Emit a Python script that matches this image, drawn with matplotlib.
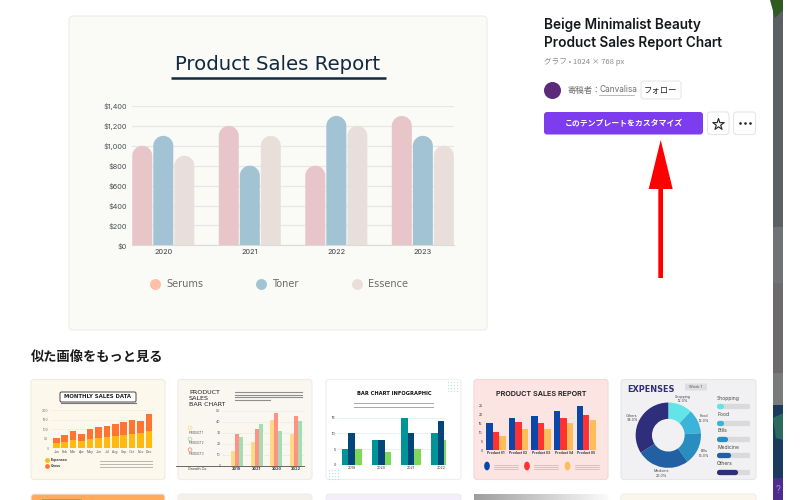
import matplotlib
matplotlib.use('Agg')
import matplotlib.pyplot as plt
import numpy as np
from matplotlib.patches import Ellipse, FancyBboxPatch, PathPatch, Polygon, Rectangle
from matplotlib.path import Path

# main chart
years = ['2020', '2021', '2022', '2023']
serums = [1000, 1200, 800, 1300]
toner = [1100, 800, 1300, 1100]
essence = [900, 1100, 1200, 1000]
y_ticks = [0, 200, 400, 600, 800, 1000, 1200, 1400]
y_labels = ['$0', '$200', '$400', '$600', '$800', '$1,000', '$1,200', '$1,400']

# thumbnails
months = ['Jan', 'Feb', 'Mar', 'Apr', 'May', 'Jun', 'Jul', 'Aug', 'Sep', 'Oct', 'Nov', 'Dec']
sales_yellow = [30, 35, 45, 40, 50, 55, 60, 65, 70, 75, 80, 90]
sales_orange = [25, 35, 45, 35, 50, 55, 55, 65, 70, 75, 65, 90]
p2_yellow = [13, 22, 42, 29]
p2_red = [29, 33, 48, 45]
p2_green = [26, 38, 32, 41]
p3_teal = [5, 8, 15, 10]
p3_navy = [10, 8, 10, 14]
p3_green = [5, 4, 5, 8]
p4_blue = [15, 18, 19, 22, 25]
p4_red = [10, 16, 15, 18, 20]
p4_orange = [8, 12, 12, 15, 17]
p4_names = ['Product 01', 'Product 02', 'Product 03', 'Product 04', 'Product 05']
exp_names = ['Shopping', 'Food', 'Bills', 'Medicine', 'Others']
exp_share = [12, 12, 16, 26, 34]
exp_progress = [18, 18, 30, 40, 60]
exp_colors = ['#62E4E8', '#3AB5D9', '#2A8DBF', '#2160A3', '#2E2E7A']

plt.rcParams['font.family'] = ['Inter', 'Noto Sans CJK JP', 'DejaVu Sans']
JP = ['Noto Sans CJK JP', 'DejaVu Sans']

fig = plt.figure(figsize=(8, 5), dpi=100, facecolor='white')
bg = fig.add_axes([0, 0, 1, 1])
bg.axis('off')


def ax_at(x0, y0, x1, y1):
    # pixel box, y from the top
    ax = fig.add_axes([x0 / 800, 1 - y1 / 500, (x1 - x0) / 800, (y1 - y0) / 500])
    ax.patch.set_alpha(0)
    for s in ax.spines.values():
        s.set_visible(False)
    ax.tick_params(length=0)
    return ax


def box(x0, y0, x1, y1, fc, ec='none', r=3, lw=0.8):
    bg.add_patch(FancyBboxPatch((x0, y0), x1 - x0, y1 - y0, boxstyle=f'round,pad=0,rounding_size={r}',
                                fc=fc, ec=ec, lw=lw))


def round_tops(ax, bars, ry):
    # swap the square bar for one with a half round top
    for b in bars:
        x, w, h = b.get_x(), b.get_width(), b.get_height()
        k = 0.5523
        verts = [(x, 0), (x, h - ry), (x, h - ry + k * ry), (x + w / 2 - k * w / 2, h), (x + w / 2, h),
                 (x + w / 2 + k * w / 2, h), (x + w, h - ry + k * ry), (x + w, h - ry), (x + w, 0), (x, 0)]
        codes = [Path.MOVETO, Path.LINETO, Path.CURVE4, Path.CURVE4, Path.CURVE4,
                 Path.CURVE4, Path.CURVE4, Path.CURVE4, Path.LINETO, Path.CLOSEPOLY]
        ax.add_patch(PathPatch(Path(verts, codes), fc=b.get_facecolor(), ec='none', zorder=3))
        b.remove()


# right strip behind the page
for y0, y1, c in [(0, 227, '#5A6063'), (227, 283, '#6F7375'), (283, 373, '#6C6A6A'), (373, 405, '#7A7C7C'),
                  (405, 478, '#1A3A60'), (478, 500, '#4C2C8C')]:
    bg.add_patch(Rectangle((773, y0), 10, y1 - y0, fc=c, ec='none'))
bg.add_patch(Polygon([(770, 0), (783, 0), (783, 10), (775, 18)], fc='#2F5A22', ec='none'))
bg.add_patch(Polygon([(773, 418), (783, 413), (783, 440), (776, 438)], fc='#2C6A5C', ec='none'))
bg.text(778, 490, '?', color='#9A86C8', fontsize=7, ha='center', va='center')

# main card
box(69, 16, 487, 330, '#FAFAF7', '#ECECE8', r=4)
bg.text(278, 64, 'Product Sales Report', family='DejaVu Sans', fontsize=14.2, color='#12293F', ha='center', va='center')
bg.plot([171, 386], [77.7, 77.7], color='#12293F', lw=1.8, solid_capstyle='butt')

ax = ax_at(132.3, 106, 454, 245.3)
ax.set_xlim(-0.358, 3.36)
ax.set_ylim(0, 1400)
xs = range(len(years))
for off, vals, c in [(-0.243, serums, '#E8C5C8'), (0, toner, '#A1C3D4'), (0.243, essence, '#E9DFDA')]:
    round_tops(ax, ax.bar([x + off for x in xs], vals, 0.231, color=c), 100)
ax.set_yticks(y_ticks, y_labels, fontsize=5.3, color='#4A4F55')
ax.set_xticks(list(xs), years, fontsize=5.3, color='#3A3F45')
ax.tick_params(axis='x', pad=2.5)
ax.tick_params(axis='y', pad=4)
ax.grid(axis='y', color='#E7E7E5', lw=0.9)
ax.set_axisbelow(True)
ax.spines['bottom'].set_visible(True)
ax.spines['bottom'].set_color('#DADADA')

for x, tx, name, c in [(155, 166, 'Serums', '#FFBFA8'), (260.7, 272, 'Toner', '#A1C3D4'), (357.3, 368.3, 'Essence', '#E9DFDA')]:
    bg.scatter([x], [284.3], s=62, color=c, zorder=3, linewidths=0)
    bg.text(tx, 284.3, name, family='DejaVu Sans', fontsize=7, color='#6B6B6B', va='center')

# template details
bg.text(544, 25, 'Beige Minimalist Beauty', fontsize=9.8, fontweight='semibold', color='#16181C', va='center')
bg.text(544, 43, 'Product Sales Report Chart', fontsize=9.8, fontweight='semibold', color='#16181C', va='center')
bg.text(544, 62, 'グラフ • 1024 × 768 px', family=JP, fontsize=5.5, color='#8A8A8A', va='center')
bg.scatter([552.3], [90], s=150, color='#5B2A78', linewidths=0)
bg.text(568, 90, '寄稿者：', family=JP, fontsize=6, color='#6E6E6E', va='center')
bg.text(599, 90, 'Canvalisa', fontsize=6, color='#6E6E6E', va='center')
bg.plot([599, 634], [94.5, 94.5], color='#A0A0A0', lw=0.5)
box(641, 81, 681, 99, 'white', '#E6E6E6', r=3)
bg.text(661, 90, 'フォロー', family=JP, fontsize=6, color='#222222', ha='center', va='center')
box(544, 112, 703, 134.5, '#7D3CEE', r=3)
bg.text(623.5, 123, 'このテンプレートをカスタマイズ', family=JP, fontsize=5.7, fontweight='bold', color='white', ha='center', va='center')
box(707.5, 112, 729, 134.5, 'white', '#E6E6E6', r=3)
bg.scatter([718.3], [123.5], marker='*', s=75, fc='white', ec='#222222', lw=0.8)
box(733.5, 112, 755.5, 134.5, 'white', '#E6E6E6', r=3)
bg.scatter([739.5, 744.5, 749.5], [123, 123, 123], s=3.5, color='#222222', linewidths=0)

# red arrow
bg.add_patch(Polygon([(660.7, 140), (672.7, 189), (663, 189), (663, 278), (658.3, 278), (658.3, 189), (648.7, 189)],
                     fc='#FF0000', ec='none'))

bg.text(31, 357, '似た画像をもっと見る', family=JP, fontsize=9.5, fontweight='bold', color='#1A1A1A', va='center')

# thumbnails
box(31, 379.5, 165, 479.5, '#FDF8EC', '#F0ECE2')
box(178, 379.5, 312, 479.5, '#FAF7F1', '#EEECE6')
box(326, 379.5, 461, 479.5, 'white', '#EEEEEE')
box(474, 379.5, 608, 479.5, '#FCE4E2', '#F2D8D6')
box(621, 379.5, 756, 479.5, '#F1F1F3', '#E6E6E8')
for x0, x1, c in [(31, 165, '#FFAB5B'), (178, 312, '#F4F1EA'), (326, 461, '#F4EEFB'), (621, 756, '#FBF6EC')]:
    box(x0, 494, x1, 506, c, '#EEEEEE')
bg.add_patch(Rectangle((42, 498.5), 39, 5, fc='#E8E28A', ec='#8A9A3A', lw=0.5))
bg.imshow(np.linspace(0.62, 0.98, 64).reshape(1, -1), cmap='gray', vmin=0, vmax=1,
          extent=(474, 608, 506, 494), aspect='auto')

# monthly sales
box(60, 392, 136, 402, 'white', '#444444', r=1.5, lw=0.7)
bg.plot([61, 136], [403, 403], color='#777777', lw=0.8)
bg.text(98, 397, 'MONTHLY SALES DATA', family='DejaVu Sans', fontsize=3.9, fontweight='bold', color='#222222', ha='center', va='center')
ax = ax_at(50, 410.3, 154, 448.3)
ax.set_ylim(0, 200)
ax.bar(range(12), sales_yellow, 0.78, color='#FFB90F')
ax.bar(range(12), sales_orange, 0.78, bottom=sales_yellow, color='#FF7432')
ax.set_xlim(-0.75, 11.6)
ax.set_xticks(range(12), months, fontsize=2.5, color='#555555')
ax.set_yticks([0, 50, 100, 150, 200], ['0', '50', '100', '150', '200'], fontsize=2.5, color='#777777')
ax.tick_params(pad=1)
ax.grid(axis='y', color='#EFEADD', lw=0.4)
ax.set_axisbelow(True)
for y, name, c in [(460, 'Expenses', '#FFB90F'), (466, 'Gross', '#FF7432')]:
    bg.scatter([47], [y], s=12, color=c, linewidths=0)
    bg.text(51, y, name, fontsize=2.5, fontweight='bold', color='#333333', va='center')
for y in [461, 464, 467]:
    bg.plot([100, 152], [y, y], color='#B9B6AE', lw=0.7)

# product sales bar chart
for y, t in [(393, 'PRODUCT'), (398.5, 'SALES'), (404, 'BAR CHART')]:
    bg.text(189, y, t, family='DejaVu Sans', fontsize=4.6, color='#222222', va='center')
for y in [392, 394.5, 397, 399.5]:
    bg.plot([235, 302 if y < 399 else 270], [y, y], color='#8E8E8E', lw=0.8)
ax = ax_at(222, 410.7, 304, 465.7)
ax.set_ylim(0, 50)
ax.set_xlim(-0.75, 3.4)
for off, vals, c in [(-0.2, p2_yellow, '#FFDB87'), (0, p2_red, '#FF9285'), (0.2, p2_green, '#A4DDB1')]:
    ax.bar([i + off for i in range(4)], vals, 0.2, color=c)
ax.set_yticks([0, 10, 20, 30, 40, 50], ['0', '10', '20', '30', '40', '50'], fontsize=2.5, color='#555555')
ax.set_xticks(range(4), ['2019', '2021', '2020', '2022'], fontsize=2.8, fontweight='bold', color='#333333')
ax.tick_params(pad=1)
ax.grid(axis='y', color='#E8E6E0', lw=0.4)
ax.set_axisbelow(True)
bg.plot([176, 304], [465.7, 465.7], color='#666666', lw=0.7)
bg.text(188, 469.5, 'Growth Co', fontsize=2.6, color='#333333', va='center')
for y, name, c in [(428, 'PRODUCT 1', '#FFDB87'), (439, 'PRODUCT 2', '#A4DDB1'), (449.7, 'PRODUCT 3', '#FF9285')]:
    bg.scatter([190], [y], s=7, fc='none', ec=c, lw=0.6)
    bg.text(188.7, y + 4.5, name, fontsize=1.8, color='#333333', va='center')

# bar chart infographic
bg.text(394, 393.5, 'BAR CHART INFOGRAPHIC', family='DejaVu Sans', fontsize=3.7, fontweight='bold', color='#111111', ha='center', va='center')
for y in [402.5, 406.5]:
    bg.plot([354, 433], [y, y], color='#A9A9A9', lw=0.7)
ax = ax_at(337, 417.7, 446, 465)
ax.set_ylim(0, 15)
ax.set_xlim(-0.495, 3.175)
for off, vals, c in [(-0.22, p3_teal, '#009499'), (0, p3_navy, '#05467A'), (0.22, p3_green, '#7ED957')]:
    ax.bar([i + off for i in range(4)], vals, 0.22, color=c)
ax.set_yticks([0, 5, 10, 15], ['0', '5', '10', '15'], fontsize=2.6, color='#333333')
ax.set_xticks(range(4), ['2019', '2020', '2021', '2022'], fontsize=2.6, color='#333333')
ax.tick_params(pad=1)
ax.grid(axis='y', color='#D9E8E8', lw=0.4)
ax.set_axisbelow(True)
dot_x = [448 + 3 * i for i in range(4)]
for gx, gy in [(0, 382), (-119, 470)]:
    for i in range(4):
        bg.scatter([d + gx for d in dot_x], [gy + 3 * i] * 4, s=0.8, color='#B7E0E0', linewidths=0)

# product sales report
bg.text(541, 393.5, 'PRODUCT SALES REPORT', fontsize=5.2, fontweight='semibold', color='#1A1A1A', ha='center', va='center')
ax = ax_at(484, 405.7, 602, 450)
ax.set_ylim(0, 25)
ax.set_xlim(-0.53, 4.7)
for off, vals, c in [(-0.29, p4_blue, '#0B47A8'), (0, p4_red, '#FF3131'), (0.29, p4_orange, '#FFBD59')]:
    ax.bar([i + off for i in range(5)], vals, 0.28, color=c)
ax.set_yticks([0, 5, 10, 15, 20, 25], ['0', '5', '10', '15', '20', '25'], fontsize=2.5, color='#333333')
ax.set_xticks(range(5), p4_names, fontsize=2.4, fontweight='bold', color='#333333')
ax.tick_params(pad=1)
for x, c in [(487, '#0B47A8'), (527, '#FF3131'), (567.5, '#FFBD59')]:
    bg.add_patch(Ellipse((x, 466), 5.7, 8.7, fc=c, ec='none'))
    for y in [464.5, 467, 469]:
        bg.plot([x + 7, x + 31], [y, y], color='#C9B3B1', lw=0.5)

# expenses
bg.text(627.5, 389, 'EXPENSES', family='DejaVu Sans', fontsize=5.9, fontweight='bold', color='#2E2E7A', va='center')
box(685, 383.5, 707, 390.5, '#DEDEE0', r=1)
bg.text(696, 387, 'Week 1', fontsize=2.8, color='#555555', ha='center', va='center')
ax = ax_at(630, 397, 706.6, 473.4)
ax.pie(exp_share, colors=exp_colors, startangle=90, counterclock=False, radius=1,
       wedgeprops=dict(width=0.5, edgecolor='none'))
ax.set_xlim(-1.17, 1.17)
ax.set_ylim(-1.17, 1.17)
for x, y, t in [(683, 399, 'Shopping\n12.0%'), (704, 418.5, 'Food\n12.0%'), (704, 453.5, 'Bills\n16.0%'), (661, 473.5, 'Medicine\n26.0%'), (632, 418, 'Others\n34.0%')]:
    bg.text(x, y, t, fontsize=2.6, color='#444444', ha='center', va='center', linespacing=1.1)
ax = ax_at(717, 402, 749.7, 476)
ax.hlines(range(5), 5, 95, lw=3.8, color='#DADADC', capstyle='round')
ax.hlines(range(5), 5, [v - 5 for v in exp_progress], lw=3.8, colors=exp_colors, capstyle='round')
ax.set_xlim(0, 100)
ax.set_ylim(4.27, -0.27)
ax.set_xticks([])
ax.set_yticks([])
for i, name in enumerate(exp_names):
    bg.text(717, 398.5 + 16.25 * i, name, fontsize=3.6, color='#444444', va='center')

bg.set_xlim(0, 800)
bg.set_ylim(500, 0)
fig.savefig('out.png', dpi=100)
